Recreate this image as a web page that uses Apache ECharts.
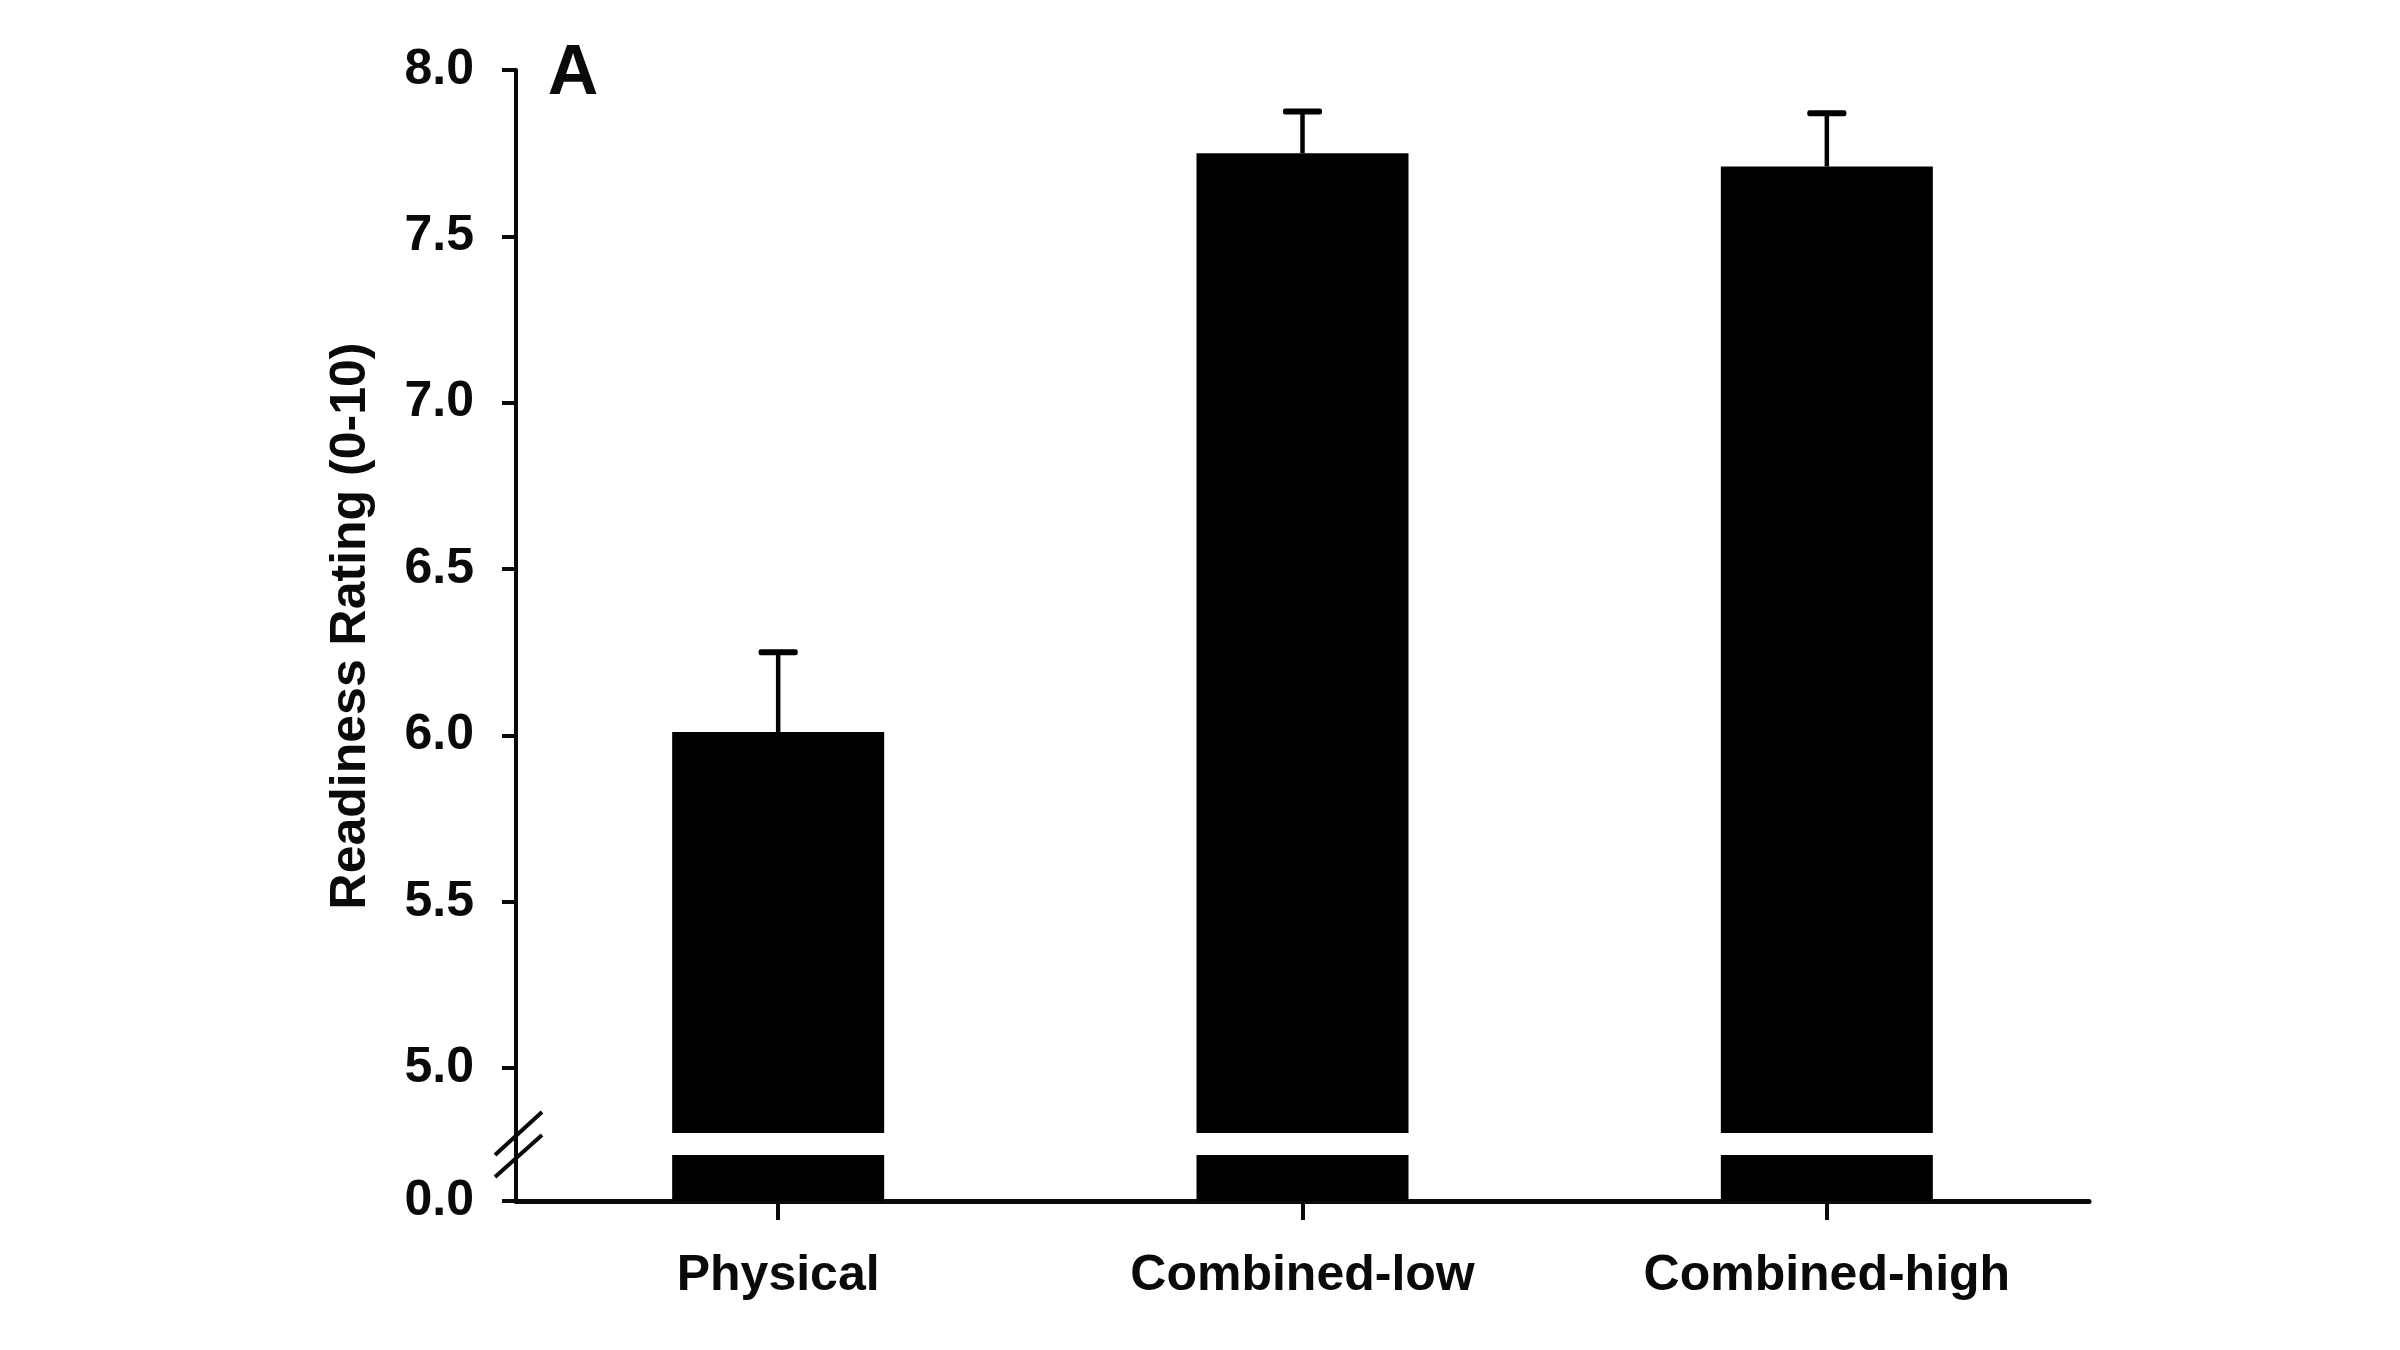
<!DOCTYPE html>
<html>
<head>
<meta charset="utf-8">
<script src="https://cdn.jsdelivr.net/npm/echarts@6/dist/echarts.min.js"></script>
<style>
html,body{margin:0;padding:0;background:#fff;}
#chart{width:2400px;height:1350px;}
</style>
</head>
<body>
<div id="chart"></div>
<script>
// ---- data ----
var categories = ['Physical', 'Combined-low', 'Combined-high'];
var means = [6.01, 7.75, 7.71];
var sems = [0.24, 0.125, 0.16];
var upperTicks = [5.0, 5.5, 6.0, 6.5, 7.0, 7.5, 8.0];
var lowerTicks = [0.0];
var yTitle = 'Readiness Rating (0-10)';
var panelLabel = 'A';

// ---- layout ----
var FONT = '"Liberation Sans", Arial, Helvetica, sans-serif';
var LEFT = 516, RIGHT = 311;
var TOP_TOP = 70, TOP_BOTTOM = 1133;    // upper segment
var LOW_TOP = 1155, LOW_BOTTOM = 1201;  // lower segment
var UPPER_MIN = 4.805, UPPER_MAX = 8.0;
var LOWER_MIN = 0, LOWER_MAX = 0.138;
var BAR_W = 212;
var INK = '#0a0a0a';

var chart = echarts.init(document.getElementById('chart'), null, {renderer: 'canvas'});

var errData = categories.map(function (c, i) { return [i, means[i], sems[i]]; });

var option = {
  backgroundColor: '#ffffff',
  animation: false,
  grid: [
    {left: LEFT, right: RIGHT, top: TOP_TOP, height: TOP_BOTTOM - TOP_TOP},
    {left: LEFT, right: RIGHT, top: LOW_TOP, height: LOW_BOTTOM - LOW_TOP}
  ],
  xAxis: [
    {gridIndex: 0, type: 'category', data: categories, show: false, boundaryGap: true},
    {
      gridIndex: 1, type: 'category', data: categories, boundaryGap: true,
      axisLine: {show: true, lineStyle: {color: INK, width: 5}},
      axisTick: {show: true, alignWithLabel: true, length: 19, lineStyle: {color: INK, width: 4}},
      axisLabel: {show: true, margin: 50, color: INK, fontSize: 50, fontWeight: 'bold', fontFamily: FONT},
      splitLine: {show: false}
    }
  ],
  yAxis: [
    {
      gridIndex: 0, type: 'value', min: UPPER_MIN, max: UPPER_MAX,
      axisLine: {show: true, lineStyle: {color: INK, width: 4}},
      axisTick: {show: true, length: 14, lineStyle: {color: INK, width: 4}, customValues: upperTicks},
      axisLabel: {
        show: true, margin: 42, color: INK, fontSize: 50, fontWeight: 'bold', fontFamily: FONT,
        customValues: upperTicks,
        formatter: function (v) { return Number(v).toFixed(1); }
      },
      splitLine: {show: false}
    },
    {
      gridIndex: 1, type: 'value', min: LOWER_MIN, max: LOWER_MAX,
      axisLine: {show: true, lineStyle: {color: INK, width: 4}},
      axisTick: {show: true, length: 14, lineStyle: {color: INK, width: 4}, customValues: lowerTicks},
      axisLabel: {
        show: true, margin: 42, color: INK, fontSize: 50, fontWeight: 'bold', fontFamily: FONT,
        customValues: lowerTicks,
        formatter: function (v) { return Number(v).toFixed(1); }
      },
      splitLine: {show: false}
    }
  ],
  series: [
    {
      type: 'bar', xAxisIndex: 0, yAxisIndex: 0, data: means, barWidth: BAR_W,
      itemStyle: {color: '#000'}, clip: true, z: 2
    },
    {
      type: 'bar', xAxisIndex: 1, yAxisIndex: 1, data: means, barWidth: BAR_W,
      itemStyle: {color: '#000'}, clip: true, z: 2
    },
    {
      type: 'custom', xAxisIndex: 0, yAxisIndex: 0, data: errData, clip: false, z: 3,
      renderItem: function (params, api) {
        var x = api.value(0), m = api.value(1), e = api.value(2);
        var p0 = api.coord([x, m]);
        var p1 = api.coord([x, m + e]);
        var capW = 39, capH = 6;
        return {
          type: 'group',
          children: [
            {type: 'line', shape: {x1: p0[0], y1: p0[1], x2: p1[0], y2: p1[1]},
             style: {stroke: '#000', lineWidth: 4.5}},
            {type: 'rect', shape: {x: p1[0] - capW / 2, y: p1[1] - capH / 2, width: capW, height: capH, r: 2},
             style: {fill: '#000'}}
          ]
        };
      }
    }
  ]
};
chart.setOption(option);

// decorations: axis title, panel label, axis break marks
var gx = LEFT;
chart.setOption({
  graphic: [
    {type: 'text', x: 351, y: 626, rotation: Math.PI / 2,
     style: {text: yTitle, align: 'center', verticalAlign: 'middle', fill: INK,
             font: 'bold 50px ' + FONT}},
    {type: 'text', x: 573, y: 75,
     style: {text: panelLabel, align: 'center', verticalAlign: 'middle', fill: INK,
             font: 'bold 70px ' + FONT}},
    {type: 'line', shape: {x1: gx, y1: TOP_BOTTOM - 2, x2: gx, y2: LOW_TOP + 2},
     style: {stroke: INK, lineWidth: 4}},
    {type: 'line', shape: {x1: gx + 26, y1: 1112, x2: gx - 21, y2: 1155},
     style: {stroke: INK, lineWidth: 4}},
    {type: 'line', shape: {x1: gx + 26, y1: 1135, x2: gx - 21, y2: 1177},
     style: {stroke: INK, lineWidth: 4}}
  ]
});
</script>
</body>
</html>
